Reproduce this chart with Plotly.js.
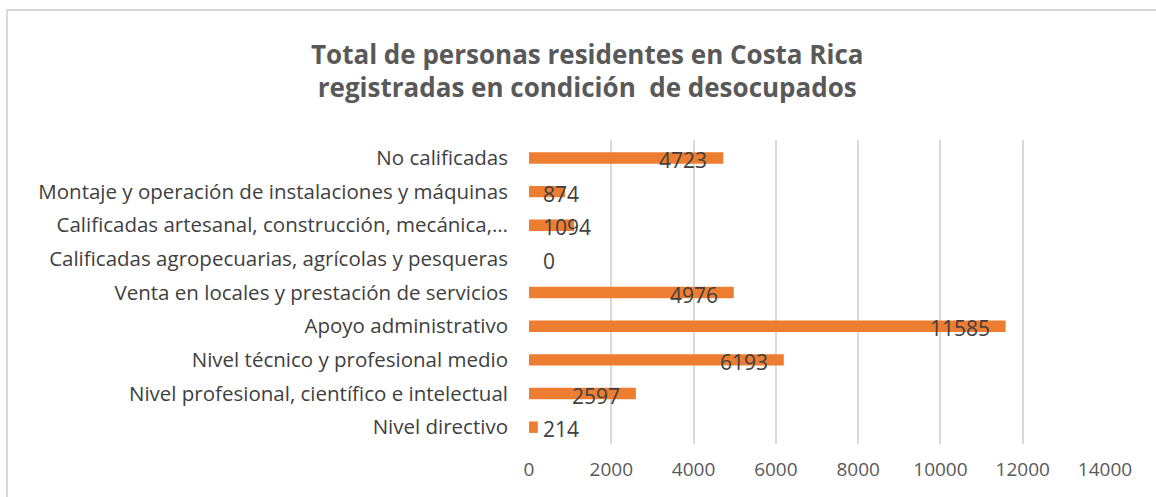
<!DOCTYPE html>
<html><head><meta charset="utf-8">
<script src="https://cdn.plot.ly/plotly-3.0.1.min.js"></script>
<style>
html,body{margin:0;padding:0;background:#fff;}
#frame{position:absolute;left:6px;top:9px;width:1200px;height:600px;border-top:2px solid #d9d9d9;border-left:2px solid #d9d9d9;pointer-events:none;}
#chart{position:absolute;left:0;top:0;width:1156px;height:497px;}
</style></head><body>
<div id="chart"></div>
<div id="frame"></div>
<script>
const categories = [
  "No calificadas",
  "Montaje y operación de instalaciones y máquinas",
  "Calificadas artesanal, construcción, mecánica,…",
  "Calificadas agropecuarias, agrícolas y pesqueras",
  "Venta en locales y prestación de servicios",
  "Apoyo administrativo",
  "Nivel técnico y profesional medio",
  "Nivel profesional, científico e intelectual",
  "Nivel directivo"
];
const values = [4723, 874, 1094, 0, 4976, 11585, 6193, 2597, 214];
const xTicks = [0, 2000, 4000, 6000, 8000, 10000, 12000, 14000];

const FONT = "Open Sans, Noto Sans, sans-serif";
const plotWidth = 1156 - 529 - 51;
const xMax = 14000;

const annotations = values.map((v, i) => {
  const label = String(v);
  const barPx = v / xMax * plotWidth;
  const textPx = label.length * 12.5;
  const inside = barPx - 15 - textPx > 14;
  const font = {family: FONT, size: 21, color: '#404040'};
  return inside
    ? {x: v, y: categories[i], text: label, xref: 'x', yref: 'y', showarrow: false,
       xanchor: 'right', xshift: -14, yshift: -2, font: font}
    : {x: 0, y: categories[i], text: label, xref: 'x', yref: 'y', showarrow: false,
       xanchor: 'left', xshift: 12, yshift: -2, font: font};
});

const data = [{
  type: 'bar', orientation: 'h',
  x: values, y: categories,
  marker: {color: '#ED7D31'},
  width: 0.34,
  hoverinfo: 'skip'
}];

const layout = {
  width: 1156, height: 497,
  margin: {l: 529, r: 51, t: 140, b: 53},
  paper_bgcolor: '#ffffff', plot_bgcolor: '#ffffff',
  showlegend: false,
  title: {
    text: '<b>Total de personas residentes en Costa Rica<br>registradas en condición  de desocupados</b>',
    x: 0.508, xanchor: 'center', y: 0.872, yanchor: 'middle',
    font: {family: FONT, size: 26, color: '#595959'}
  },
  xaxis: {
    range: [0, xMax], tickvals: xTicks, ticktext: xTicks.map(String),
    showgrid: true, gridcolor: '#d9d9d9', gridwidth: 2,
    zeroline: false, showline: false, ticks: '',
    ticklabelstandoff: 12,
    tickfont: {family: FONT, size: 19, color: '#595959'},
    fixedrange: true
  },
  yaxis: {
    autorange: 'reversed', type: 'category',
    showgrid: false, zeroline: false, showline: false, ticks: '',
    ticklabelstandoff: 20,
    tickfont: {family: FONT, size: 20.5, color: '#404040'},
    fixedrange: true
  },
  annotations: annotations
};

Plotly.newPlot('chart', data, layout, {displayModeBar: false, staticPlot: true});
</script>
</body></html>
